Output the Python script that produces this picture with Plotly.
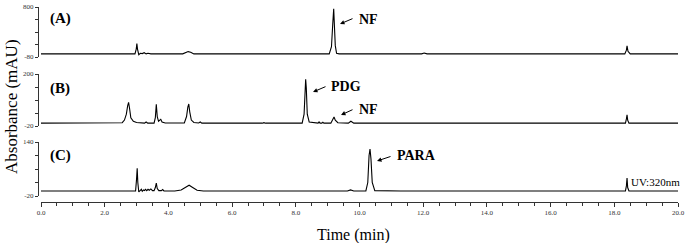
import plotly.graph_objects as go

# ---------------- data ----------------
A_time = [0.0, 2.95, 2.99, 3.01, 3.03, 3.07, 3.12, 3.18, 3.24, 3.30, 3.36, 3.45,
          4.45, 4.55, 4.62, 4.70, 4.80,
          9.05, 9.12, 9.16, 9.19, 9.21, 9.24, 9.28, 9.36,
          11.95, 12.03, 12.12,
          18.33, 18.38, 18.40, 18.43, 18.50, 20.0]
A_abs = [-25, -25, 60, 155, 60, -40, -15, -20, -5, -25, -15, -25,
         -25, 5, 15, 5, -25,
         -25, 100, 500, 770, 500, 120, -15, -25,
         -25, -10, -25,
         -25, 40, 115, 20, -25, -25]

B_time = [0.0, 2.55, 2.62, 2.68, 2.72, 2.75, 2.78, 2.82, 2.90, 3.0,
          3.25, 3.30, 3.35, 3.55, 3.59, 3.62, 3.65, 3.69, 3.73, 3.76, 3.80, 3.90,
          4.50, 4.57, 4.61, 4.64, 4.67, 4.72, 4.80, 4.95, 5.0, 5.05,
          6.95, 7.0, 7.05,
          8.20, 8.26, 8.29, 8.31, 8.33, 8.36, 8.42, 8.60,
          8.70, 8.73, 8.76, 8.82, 8.85, 8.88,
          9.10, 9.16, 9.20, 9.24, 9.32, 9.65, 9.73, 9.82,
          18.35, 18.38, 18.40, 18.42, 18.46, 20.0]
B_abs = [-8, -6, 5, 30, 65, 80, 55, 15, 0, -5,
         -8, -3, -8, -8, 15, 72, 20, 0, 5, 8, -3, -7,
         -7, 20, 60, 73, 40, 5, -5, -7, -3, -8,
         -8, -6, -8,
         -8, 30, 150, 178, 140, 30, -3, -8,
         -8, -3, -8, -8, -4, -8,
         -8, 8, 18, 5, -6, -8, 0, -8,
         -8, 10, 27, 5, -8, -8]

C_time = [0.0, 2.97, 3.00, 3.02, 3.04, 3.07, 3.12, 3.15, 3.18, 3.22, 3.25, 3.28,
          3.32, 3.36, 3.40, 3.45, 3.50, 3.55, 3.59, 3.62, 3.65, 3.70, 3.78, 3.82,
          3.86, 4.2, 4.4, 4.55, 4.65, 4.75, 4.9, 5.1,
          9.62, 9.72, 9.82,
          10.20, 10.26, 10.30, 10.33, 10.36, 10.40, 10.48,
          11.15, 11.22, 11.30,
          18.35, 18.38, 18.40, 18.42, 18.46, 20.0]
C_abs = [-5, -5, 30, 62, 20, -8, -3, 0, -6, -2, -4, 0,
         -4, 0, -3, 1, -4, -4, 5, 18, 2, -4, -4, -1,
         -5, -5, -2, 6, 12, 6, -3, -5,
         -5, -2, -5,
         -5, 20, 100, 119, 90, 20, -4,
         -5, -3, -5,
         -5, 10, 33, 5, -5, -5]

x_ticks = [0, 2, 4, 6, 8, 10, 12, 14, 16, 18, 20]
x_labels = ["0.0", "2.0", "4.0", "6.0", "8.0", "10.0", "12.0", "14.0", "16.0", "18.0", "20.0"]

A_ticks = [800, 580, 360, 140, -80]
B_ticks = [200, 145, 90, 35, -20]
C_ticks = [140, 100, 60, 20, -20]

panel_labels = ["(A)", "(B)", "(C)"]

# ---------------- figure ----------------
FONT = "Liberation Serif, Times New Roman, serif"
fig = go.Figure()
line = dict(color="black", width=1.1)
fig.add_trace(go.Scatter(x=A_time, y=A_abs, mode="lines", line=line, xaxis="x", yaxis="y", hoverinfo="skip"))
fig.add_trace(go.Scatter(x=B_time, y=B_abs, mode="lines", line=line, xaxis="x", yaxis="y2", hoverinfo="skip"))
fig.add_trace(go.Scatter(x=C_time, y=C_abs, mode="lines", line=line, xaxis="x", yaxis="y3", hoverinfo="skip"))

W, H = 685, 243
ML, MR, MT, MB = 38, 7, 6, 41
PW, PH = W - ML - MR, H - MT - MB


def px(xp):
    return (xp - ML) / PW


def py(yp):
    return (H - MB - yp) / PH


def yax(domain, ticks):
    return dict(domain=domain, range=[ticks[-1], ticks[0]], anchor="free", position=0,
                showline=True, linecolor="#333", linewidth=1, ticks="outside", ticklen=3,
                tickcolor="#333", tickvals=ticks, ticktext=[str(ticks[0]), "", "", "", str(ticks[-1])],
                showgrid=False, zeroline=False, automargin=False,
                tickfont=dict(family=FONT, size=7, color="#333"))


fig.update_layout(
    width=W, height=H, margin=dict(l=ML, r=MR, t=MT, b=MB),
    paper_bgcolor="white", plot_bgcolor="white", showlegend=False,
    xaxis=dict(domain=[3 / PW, 1], range=[0, 20], anchor="free", position=0,
               showline=True, linecolor="#333", linewidth=1, ticks="outside", ticklen=4,
               tickcolor="#333", tickvals=x_ticks, ticktext=x_labels, showgrid=False,
               zeroline=False, automargin=False, tickfont=dict(family=FONT, size=7, color="#333"),
               minor=dict(dtick=0.5, ticks="outside", ticklen=3, tickcolor="#333", showgrid=False)),
    yaxis=yax([py(57), py(7)], A_ticks),
    yaxis2=yax([py(126), py(74)], B_ticks),
    yaxis3=yax([py(196), py(142)], C_ticks),
)


def text_ann(text, xc, yc, size, **kw):
    d = dict(text=text, x=px(xc), y=py(yc), xref="paper", yref="paper", showarrow=False,
             xanchor="center", yanchor="middle", font=dict(family=FONT, size=size, color="black"))
    d.update(kw)
    return d


ann = []
# panel labels
for lab, yc in zip(panel_labels, [18.5, 88, 155]):
    ann.append(text_ann("<b>%s</b>" % lab, 60, yc, 15))
# peak labels
for t, xc, yc in [("NF", 368, 19), ("PDG", 346, 86), ("NF", 368, 109), ("PARA", 416, 155)]:
    ann.append(text_ann("<b>%s</b>" % t, xc, yc, 14))
# arrows
for hx, hy, tx, ty in [(340, 24, 354, 18), (313, 92, 327, 86), (341, 115, 354, 109), (377, 161, 392, 156)]:
    ann.append(dict(text="", x=px(hx), y=py(hy), xref="paper", yref="paper", showarrow=True,
                    ax=tx - hx, ay=ty - hy, axref="pixel", ayref="pixel", arrowhead=2,
                    arrowsize=0.9, arrowwidth=1, arrowcolor="black"))
ann.append(text_ann("UV:320nm", 655, 182, 11))
ann.append(text_ann("Absorbance (mAU)", 11, 107, 17, textangle=-90))
ann.append(text_ann("Time (min)", 353, 235, 16))
fig.update_layout(annotations=ann)

fig.write_html("out.html", config={"displayModeBar": False},
               post_script="document.body.style.margin='0';document.body.style.overflow='hidden';")
